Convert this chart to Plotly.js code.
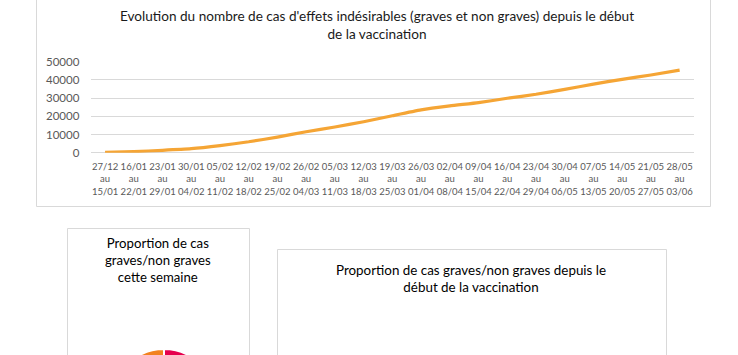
<!DOCTYPE html>
<html>
<head>
<meta charset="utf-8">
<script src="https://cdn.plot.ly/plotly-3.0.1.min.js"></script>
<style>
html,body{margin:0;padding:0;overflow:hidden;background:#fff;width:738px;height:355px;}
#chart{width:738px;height:460px;}
</style>
</head>
<body>
<div id="chart"></div>
<script>
// ---- data ----
const periodStart = ["27/12","16/01","23/01","30/01","05/02","12/02","19/02","26/02","05/03","12/03","19/03","26/03","02/04","09/04","16/04","23/04","30/04","07/05","14/05","21/05","28/05"];
const periodEnd   = ["15/01","22/01","29/01","04/02","11/02","18/02","25/02","04/03","11/03","18/03","25/03","01/04","08/04","15/04","22/04","29/04","06/05","13/05","20/05","27/05","03/06"];
const cumulativeCases = [200,600,1300,2200,3900,6000,8600,11500,14100,17000,20300,23500,25700,27500,29900,32100,34800,37700,40300,42700,45400];
const yTicks = [0,10000,20000,30000,40000,50000];
const pieLabels = ["Cas non graves","Cas graves"];
const pieValues = [73,27];

const chartTitle = "Evolution du nombre de cas d'effets indésirables (graves et non graves) depuis le début<br>de la vaccination";
const pieTitleWeek = "Proportion de cas<br>graves/non graves<br>cette semaine";
const pieTitleAll = "Proportion de cas graves/non graves depuis le<br>début de la vaccination";

// ---- layout helpers ----
const W = 738, H = 460;
const fx = x => x / W;
const fy = y => 1 - y / H;
const FONT = "Lato, 'Open Sans', sans-serif";

const categories = periodStart.map((s,i) => s + "<br>au<br>" + periodEnd[i]);

const lineTrace = {
  type: "scatter", mode: "lines",
  x: categories, y: cumulativeCases,
  line: {color: "#F5A535", width: 3.2, shape: "spline", smoothing: 0.5},
  xaxis: "x", yaxis: "y", hoverinfo: "x+y", showlegend: false
};

const pieTrace = {
  type: "pie", labels: pieLabels, values: pieValues,
  marker: {colors: ["#E6004E","#F2821F"], line: {color: "#fff", width: 2}},
  sort: false, direction: "clockwise", rotation: 0,
  textinfo: "none", showlegend: false,
  domain: {x: [fx(114), fx(214)], y: [fy(449), fy(349)]}
};

const boxLine = {color: "#d9d9d9", width: 1};
const shapes = [
  {type: "rect", xref: "paper", yref: "paper", x0: fx(36.5), x1: fx(710.5), y0: fy(206.5), y1: fy(-5), line: boxLine, layer: "below"},
  {type: "rect", xref: "paper", yref: "paper", x0: fx(67.5), x1: fx(249.5), y0: fy(470), y1: fy(228.5), line: boxLine, layer: "below"},
  {type: "rect", xref: "paper", yref: "paper", x0: fx(277.5), x1: fx(666.5), y0: fy(470), y1: fy(249.5), line: boxLine, layer: "below"}
];

const annotations = [
  {text: chartTitle, xref: "paper", yref: "paper", x: fx(377), y: fy(25.5), xanchor: "center", yanchor: "middle",
   showarrow: false, font: {family: FONT, size: 13.6, color: "#1a1a1a"}, align: "center"},
  {text: pieTitleWeek, xref: "paper", yref: "paper", x: fx(158), y: fy(260), xanchor: "center", yanchor: "middle",
   showarrow: false, font: {family: FONT, size: 13.2, color: "#000"}, align: "center"},
  {text: pieTitleAll, xref: "paper", yref: "paper", x: fx(471), y: fy(278), xanchor: "center", yanchor: "middle",
   showarrow: false, font: {family: FONT, size: 13.4, color: "#000"}, align: "center"}
];

const layout = {
  width: W, height: H,
  margin: {l: 0, r: 0, t: 0, b: 0},
  paper_bgcolor: "#fff", plot_bgcolor: "rgba(0,0,0,0)",
  showlegend: false,
  xaxis: {
    domain: [fx(90.7), fx(694)], type: "category",
    range: [-0.5, categories.length - 0.5],
    showgrid: false, zeroline: false, showline: false,
    ticks: "outside", ticklen: 5, tickcolor: "rgba(0,0,0,0)",
    tickangle: 0, tickfont: {family: FONT, size: 9.5, color: "#595959"},
    fixedrange: true, anchor: "y"
  },
  yaxis: {
    domain: [fy(152.7), fy(61.7)], range: [0, 50000],
    tickvals: yTicks, ticktext: yTicks.map(String),
    showgrid: true, gridcolor: "#d9d9d9", gridwidth: 1,
    zeroline: true, zerolinecolor: "#d9d9d9", zerolinewidth: 1.5,
    showline: false, ticks: "outside", ticklen: 8, tickcolor: "rgba(0,0,0,0)",
    tickfont: {family: FONT, size: 11.5, color: "#595959"},
    fixedrange: true, anchor: "x"
  },
  shapes: shapes,
  annotations: annotations
};

Plotly.newPlot("chart", [lineTrace, pieTrace], layout, {displayModeBar: false, staticPlot: true});
</script>
</body>
</html>
